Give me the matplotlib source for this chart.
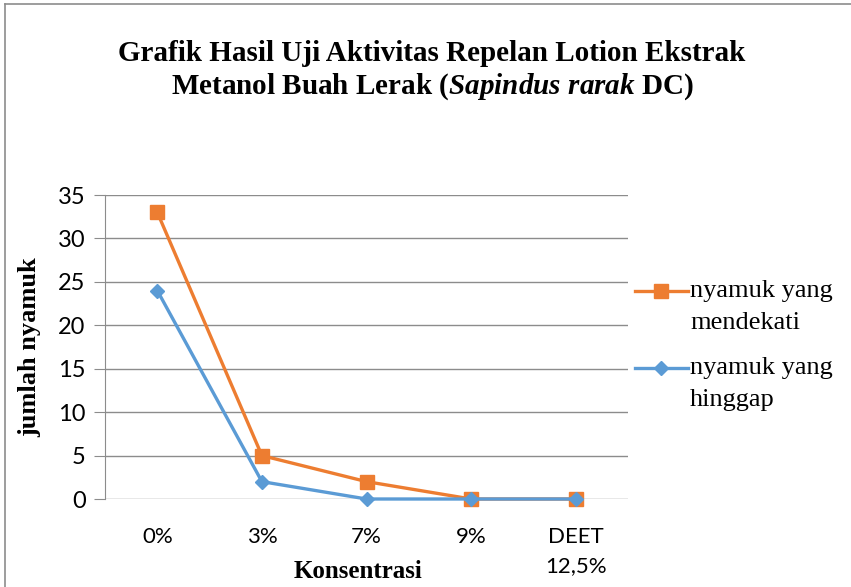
import matplotlib.pyplot as plt
from matplotlib.lines import Line2D

plt.rcParams['mathtext.fontset'] = 'custom'
plt.rcParams['mathtext.it'] = 'Liberation Serif:italic:bold'
plt.rcParams['mathtext.rm'] = 'Liberation Serif:bold'

# data
kategori = ['0%', '3%', '7%', '9%', 'DEET\n12,5%']
mendekati = [33, 5, 2, 0, 0]
hinggap = [24, 2, 0, 0, 0]
yticks = [0, 5, 10, 15, 20, 25, 30, 35]
nama_seri = [['nyamuk yang', 'mendekati'], ['nyamuk yang', 'hinggap']]

ORANGE = '#ED7D31'
BLUE = '#5B9BD5'
GRID = '#8C8C8C'

W, H = 851, 587
fig = plt.figure(figsize=(W / 100, H / 100), dpi=100)

# plot area in pixels: left 105, right 628, top 195, bottom 499
ax = fig.add_axes([105 / W, 1 - 499 / H, (628 - 105) / W, (499 - 195) / H])

x = list(range(len(kategori)))
ax.plot(x, mendekati, color=ORANGE, lw=2.4, marker='s', ms=10,
        zorder=3, clip_on=False)
ax.plot(x, hinggap, color=BLUE, lw=2.4, marker='D', ms=7.5,
        zorder=3, clip_on=False)

ax.set_xlim(-0.5, 4.5)
ax.set_ylim(0, 35)
ax.set_yticks(yticks)
ax.yaxis.grid(True, color=GRID, lw=1)
ax.set_axisbelow(True)
for s in ['top', 'right', 'bottom']:
    ax.spines[s].set_visible(False)
ax.spines['left'].set_color(GRID)
ax.tick_params(axis='y', length=8, color=GRID, pad=6, labelsize=17)
ax.tick_params(axis='x', length=0, pad=20, labelsize=16)
ax.set_xticks(x)
ax.set_xticklabels(kategori, linespacing=1.6, va='top')
for lbl in ax.get_xticklabels() + ax.get_yticklabels():
    lbl.set_family('Lato')

ax.set_ylabel('jumlah nyamuk', family='Liberation Serif', fontweight='bold',
              fontsize=19, labelpad=12)
ax.set_xlabel('Konsentrasi', family='Liberation Serif', fontweight='bold',
              fontsize=18, va='center')
ax.xaxis.set_label_coords((358 - 105) / (628 - 105), -(572 - 499) / (499 - 195))

fig.text(432 / W, 1 - 71 / H,
         'Grafik Hasil Uji Aktivitas Repelan Lotion Ekstrak\n'
         r'Metanol Buah Lerak ($Sapindus\ rarak$ DC)',
         ha='center', va='center', family='Liberation Serif',
         fontweight='bold', fontsize=21, linespacing=1.2)

# legend drawn by hand: handle level with first text line
leg_items = [(nama_seri[0], ORANGE, 's', 10, 291),
             (nama_seri[1], BLUE, 'D', 7.5, 368)]
for lines, col, mk, ms, ypx in leg_items:
    yf = 1 - ypx / H
    fig.add_artist(Line2D([635 / W, 688 / W], [yf, yf], color=col, lw=2.4))
    fig.add_artist(Line2D([661 / W], [yf], color=col, marker=mk, ms=ms, lw=0))
    for i, t in enumerate(lines):
        fig.text(690 / W, 1 - (ypx + 6 + 32 * i) / H, t, ha='left', va='baseline',
                 family='Liberation Serif', fontsize=19)

# outer frame (cut off at right and bottom)
fig.add_artist(Line2D([5 / W, 5 / W], [0, 1 - 4 / H], color=GRID, lw=1.2))
fig.add_artist(Line2D([5 / W, 1], [1 - 4 / H, 1 - 4 / H], color=GRID, lw=1.2))

fig.savefig('out.png', dpi=100)
